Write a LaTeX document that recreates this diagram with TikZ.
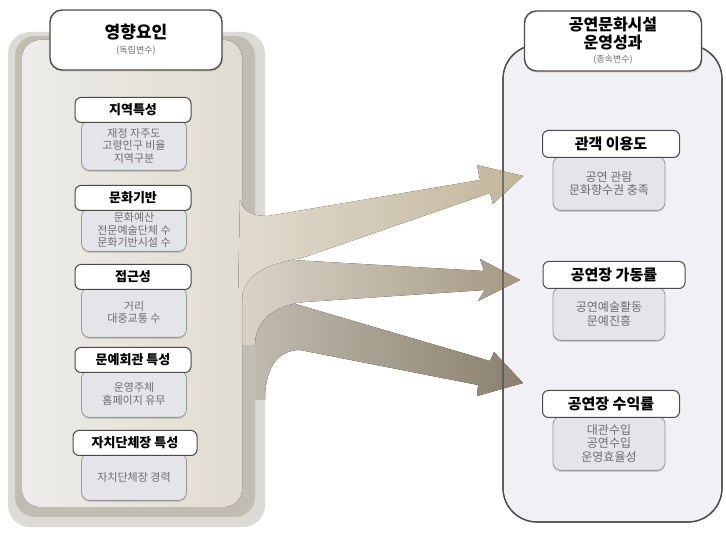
\documentclass[tikz,border=0pt]{standalone}
\usepackage{fontspec}
\setmainfont{Noto Sans CJK KR}
\usetikzlibrary{shadows}
\definecolor{frame gray}{HTML}{4A4A4A}
\definecolor{text gray}{HTML}{6E6E6E}
\definecolor{detail fill}{HTML}{E4E4E9}
\definecolor{result fill}{HTML}{F1F1F5}
\definecolor{ridge light}{HTML}{DCDAD4}
\definecolor{ridge dark}{HTML}{C2BDB2}
\definecolor{face left}{HTML}{EDECE9}
\definecolor{face right}{HTML}{E1DCD0}
\definecolor{tan light}{HTML}{C2B59A}
\definecolor{tan mid}{HTML}{A39883}
\definecolor{tan dark}{HTML}{8A806C}

\begin{document}
\begin{tikzpicture}[x=1pt,y=-1pt]
            \tikzset{title/.style={draw=frame gray, line width=1.4pt, fill=white, rounded corners=12pt, minimum width=#1, minimum height=60pt, align=center, inner sep=2pt, font={\fontsize{17}{19}\selectfont\bfseries}, drop shadow={shadow xshift=1pt, shadow yshift=-2pt, fill=tan light!70}}}
            \tikzset{head/.style={draw=frame gray, line width=1pt, fill=white, rounded corners=6pt, minimum width=#1, minimum height=25pt, inner sep=1pt, font={\fontsize{13}{15}\selectfont\bfseries}}}
            \tikzset{detail/.style={draw=gray!80, line width=0.8pt, fill=detail fill, rounded corners=8pt, anchor=north, minimum width=#1, align=center, inner sep=1pt, text=text gray, font={\fontsize{11}{12.5}\selectfont}, drop shadow={shadow xshift=0pt, shadow yshift=-1.5pt, fill=gray!70}}}
            \newcommand{\subtitle}[1]{{\fontsize{9}{11}\selectfont\mdseries\color{text gray}#1}}
            \useasboundingbox (0,0) rectangle (726,534);
            \fill[white] (0,0) rectangle (726,534);
            % result panel
            \fill[result fill, rounded corners=34pt] (503,45) rectangle (722,522);
            \draw[frame gray, line width=1.2pt, rounded corners=34pt] (503,45) rectangle (722,522);
            % factor panel, back layer and lowest arrow
            \fill[ridge light, rounded corners=22pt] (8,32) rectangle (265,527);
            \fill[left color=ridge dark, right color=tan dark] (240,300) -- (292,303) -- (490,361) -- (494,352) -- (523,383) -- (477,396) -- (478,385) -- (300,350) .. controls (275,350) and (265,372) .. (265,400) -- (240,400) -- cycle;
            % middle layer and arrow
            \fill[ridge dark, rounded corners=20pt] (15,36) rectangle (255,517);
            \fill[left color=face right!75!ridge dark, right color=tan mid] (240,262) -- (292,260) -- (484,271) -- (480,259) -- (520,280) -- (478,301) -- (485,290) -- (305,302) .. controls (272,305) and (255,322) .. (255,345) -- (240,345) -- cycle;
            % front face and top arrow
            \fill[left color=face left, right color=face right, rounded corners=18pt] (22,40) rectangle (242,507);
            \fill[left color=face right, right color=tan light] (240,200) .. controls (243,212) and (252,216) .. (268,216) -- (480,180) -- (477,165) -- (523,176) -- (493,204) -- (490,193) -- (302,258) .. controls (262,264) and (242,278) .. (242,300) -- (238,300) -- cycle;
            \draw[frame gray, line width=1.2pt, rounded corners=34pt] (503,45) rectangle (722,522);

            \node[title=172pt] (factors) at (136,40) {영향요인\\[-4pt]\subtitle{(독립변수)}};
            \node[title=177pt, font={\fontsize{16}{18}\selectfont\bfseries}] (results) at (613,41) {공연문화시설\\운영성과\\[-4pt]\subtitle{(종속변수)}};

            % factor boxes
            \node[detail=105pt, minimum height=50pt] (region) at (134,120) {재정 자주도\\고령인구 비율\\지역구분};
            \node[head=116pt] (regionhead) at (133,110) {지역특성};
            \node[detail=105pt, minimum height=43pt] (culture) at (134,208) {문화예산\\전문예술단체 수\\문화기반시설 수};
            \node[head=116pt] (culturehead) at (133,198) {문화기반};
            \node[detail=105pt, minimum height=50pt] (access) at (134,287) {거리\\대중교통 수};
            \node[head=116pt] (accesshead) at (133,277) {접근성};
            \node[detail=105pt, minimum height=47pt] (hall) at (134,370) {운영주체\\홈페이지 유무};
            \node[head=116pt] (hallhead) at (133,360) {문예회관 특성};
            \node[detail=105pt, minimum height=47pt] (mayor) at (134,453) {자치단체장 경력};
            \node[head=124pt] (mayorhead) at (135,443) {자치단체장 특성};

            % result boxes
            \node[detail=112pt, minimum height=54pt, font={\fontsize{12}{13.5}\selectfont}] (usage) at (609,156) {공연 관람\\문화향수권 충족};
            \node[head=137pt, minimum height=27pt, font={\fontsize{15}{17}\selectfont\bfseries}] (usagehead) at (611,144) {관객 이용도};
            \node[detail=112pt, minimum height=53pt, font={\fontsize{12}{13.5}\selectfont}] (rate) at (609,287) {공연예술활동\\문예진흥};
            \node[head=142pt, minimum height=27pt, font={\fontsize{15}{17}\selectfont\bfseries}] (ratehead) at (614,275) {공연장 가동률};
            \node[detail=112pt, minimum height=54pt, font={\fontsize{12}{13.5}\selectfont}] (income) at (609,416) {대관수입\\공연수입\\운영효율성};
            \node[head=137pt, minimum height=27pt, font={\fontsize{15}{17}\selectfont\bfseries}] (incomehead) at (611,404) {공연장 수익률};
        \end{tikzpicture}
\end{document}
